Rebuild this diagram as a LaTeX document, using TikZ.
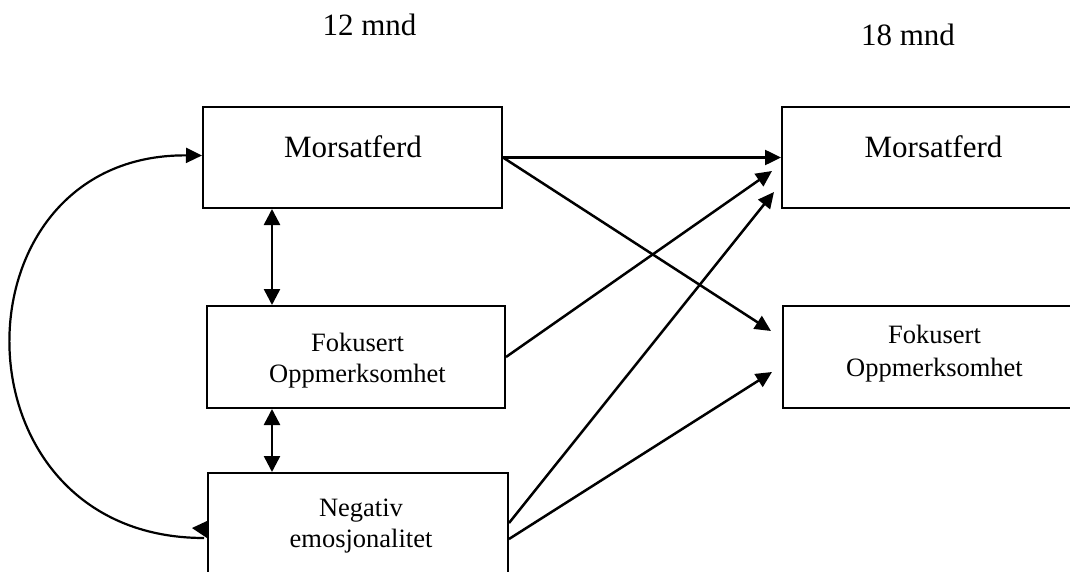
\documentclass[tikz,border=0pt]{standalone}
\usepackage{fontspec}
\setmainfont{Liberation Serif}
\usetikzlibrary{arrows.meta,calc}
\begin{document}
\begin{tikzpicture}[x=1pt,y=-1pt,
  box/.style={draw,line width=2pt,inner sep=0pt,minimum width=#1},
  box/.default=299pt,
  big/.style={font=\fontsize{31}{31}\selectfont,inner sep=0pt,anchor=base},
  small/.style={font=\fontsize{26.5}{26.5}\selectfont,inner sep=0pt,anchor=base},
  conn/.style={line width=2.5pt,-{Triangle[length=16pt,width=15pt]}},
  dbl/.style={line width=2.5pt,{Triangle[length=16pt,width=16pt]}-{Triangle[length=16pt,width=16pt]}},
  arcconn/.style={line width=2.2pt,-{Triangle[length=16pt,width=15pt]}}]
\useasboundingbox (0,0) rectangle (1070,572);
\clip (0,0) rectangle (1070,572);
% headings
\node[big] (h12) at (369.5,36) {12 mnd};
\node[big] (h18) at (908,46) {18 mnd};
% left column boxes
\node[box=299pt,minimum height=101pt] (b1) at (352.5,157.5) {};
\node[box=298pt,minimum height=102pt] (b2) at (356,357) {};
\node[box=300pt,minimum height=102pt] (b3) at (358,524) {};
% right column boxes
\node[box=304pt,minimum height=101pt] (r1) at (934,157.5) {};
\node[box=303pt,minimum height=102pt] (r2) at (934.5,357) {};
% texts
\node[big] (t1) at (353,158) {Morsatferd};
\node[small] (t2a) at (357.5,351) {Fokusert};
\node[small] (t2b) at (357.5,382) {Oppmerksomhet};
\node[small] (t3a) at (361,516) {Negativ};
\node[small] (t3b) at (361,547) {emosjonalitet};
\node[big] (u1) at (933.5,158) {Morsatferd};
\node[small] (u2a) at (934.5,343) {Fokusert};
\node[small] (u2b) at (934.5,376) {Oppmerksomhet};
% vertical double arrows
\draw[dbl] ($(b1.south west)+(70,0)$) -- ($(b2.north west)+(66,0)$);
\draw[dbl] ($(b2.south west)+(66,0)$) -- ($(b3.north west)+(65,0)$);
% cross-lag arrows
\draw[conn] (b1.east) -- (r1.west);
\draw[conn] (b1.east) -- ($(r2.north west)+(-11,26)$);
\draw[conn] (b2.east) -- ($(r1.north west)+(-9,65)$);
\draw[conn] ($(b3.east)+(0,-1)$) -- ($(r1.north west)+(-7,86)$);
\draw[conn] ($(b3.east)+(0,15)$) -- ($(r2.north west)+(-10,67)$);
% curved correlation
\draw[arcconn] ($(b3.west)+(-3,14)$) .. controls +(-257,0) and +(-254,-2) .. ($(b1.west)+(0,-2)$);
\fill (207,521) -- (207,538) -- (192,528) -- cycle;
\end{tikzpicture}
\end{document}
